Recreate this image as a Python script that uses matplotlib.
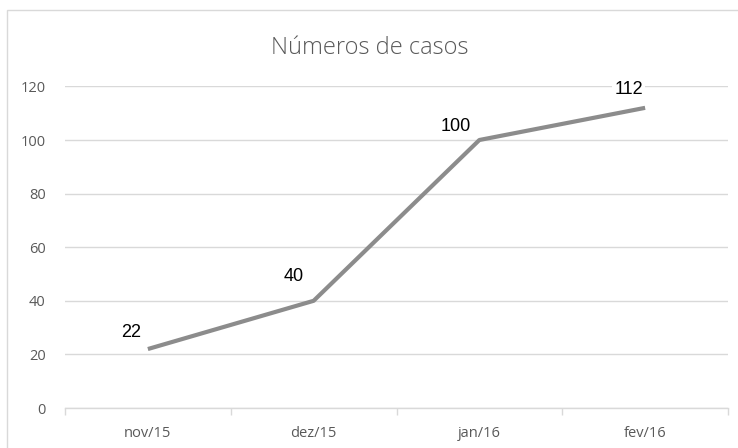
import matplotlib
matplotlib.use("Agg")
import matplotlib.pyplot as plt
from matplotlib.patches import Rectangle
import numpy as np

categories = ["nov/15", "dez/15", "jan/16", "fev/16"]
values = [22, 40, 100, 112]
yticks = [0, 20, 40, 60, 80, 100, 120]
title = "Números de casos"

# label offsets (points), style only
label_offsets = [(-12, 12), (-14.5, 17.5), (-17, 10), (-12, 13)]

fig = plt.figure(figsize=(7.38, 4.48), dpi=100)
fig.patch.set_facecolor("white")
# chart border
fig.patches.append(Rectangle((7/738, -0.1), 1.2, 1 - 10/448 + 0.1, transform=fig.transFigure,
                             fill=False, edgecolor="#d9d9d9", linewidth=1.0))

ax = fig.add_axes([65/738, 1 - 408/448, (728 - 65)/738, (408 - 86.4)/448])
x = np.arange(len(categories))
ax.plot(x, values, color="#8c8c8c", linewidth=3.0, solid_capstyle="butt", zorder=3)

for xi, v, off in zip(x, values, label_offsets):
    ax.annotate(str(v), (xi, v), xytext=off, textcoords="offset points",
                ha="center", va="center", fontsize=13, color="#000000",
                family="Liberation Sans",
                bbox=dict(boxstyle="square,pad=0.1", fc="white", ec="none"), zorder=4)

ax.set_xlim(-0.5, len(categories) - 0.5)
ax.set_ylim(0, 120)
ax.set_yticks(yticks)
ax.set_yticklabels([str(t) for t in yticks])
ax.set_xticks(x)
ax.set_xticklabels(categories)
ax.set_xticks(np.arange(-0.5, len(categories) + 0.5, 1), minor=True)

ax.grid(axis="y", color="#d9d9d9", linewidth=1.0, zorder=0)
ax.set_axisbelow(True)
for s in ["top", "right", "left"]:
    ax.spines[s].set_visible(False)
ax.spines["bottom"].set_color("#d9d9d9")
ax.spines["bottom"].set_linewidth(1.0)

ax.tick_params(axis="y", length=0, pad=14, labelsize=10.5, labelcolor="#595959")
ax.tick_params(axis="x", which="major", length=0, pad=13, labelsize=10.5, labelcolor="#595959")
ax.tick_params(axis="x", which="minor", length=5, color="#d9d9d9", width=1.0)
for lab in ax.get_xticklabels() + ax.get_yticklabels():
    lab.set_family("Open Sans")

fig.text(370/738, 1 - 48/448, title, ha="center", va="center", fontsize=17,
         color="#595959", family="Open Sans", fontweight="light")

fig.savefig("out.png", dpi=100)
